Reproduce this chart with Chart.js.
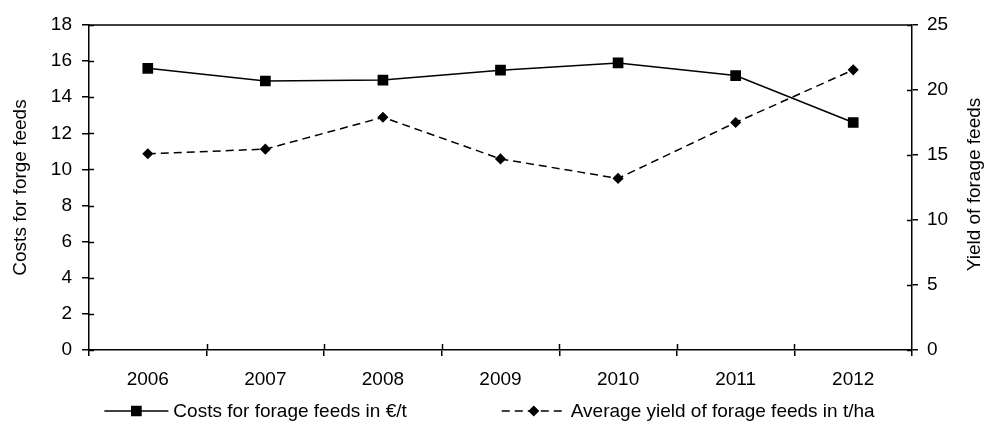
<!DOCTYPE html>
<html>
<head>
<meta charset="utf-8">
<script src="https://cdn.jsdelivr.net/npm/chart.js@4.4.1/dist/chart.umd.min.js"></script>
<style>
  html, body { margin: 0; padding: 0; background: #fff; }
  #wrap { width: 987px; height: 421px; }
</style>
</head>
<body>
<div id="wrap"><canvas id="forageChart" width="987" height="421"></canvas></div>
<script>
// values
const years = ['2006', '2007', '2008', '2009', '2010', '2011', '2012'];
const costs = [15.6, 14.9, 14.95, 15.5, 15.9, 15.2, 12.6];      // €/t, left axis
const yields = [15.1, 15.45, 17.9, 14.7, 13.2, 17.5, 21.55];    // t/ha, right axis

const costLabel = 'Costs for forage feeds in €/t';
const yieldLabel = 'Average yield of forage feeds in t/ha';
const leftTitle = 'Costs for forge feeds';
const rightTitle = 'Yield of forage feeds';

const FONT = '"Liberation Sans", Arial, sans-serif';
const FSIZE = 19;
Chart.defaults.font.family = FONT;
Chart.defaults.font.size = FSIZE;
Chart.defaults.color = '#000';

// frame top line, inner half of the crossing ticks, right title, legend
const extras = {
    id: 'extras',
    afterDraw(chart) {
        const ctx = chart.ctx;
        const area = chart.chartArea;
        const xs = chart.scales.x, yl = chart.scales.y, yr = chart.scales.y1;
        ctx.save();
        ctx.strokeStyle = '#000';
        ctx.lineWidth = 1.5;
        ctx.beginPath();
        ctx.moveTo(area.left, area.top);
        ctx.lineTo(area.right, area.top);
        // inner tick parts
        const half = (xs.getPixelForValue(1) - xs.getPixelForValue(0)) / 2;
        for (let i = 0; i < years.length - 1; i++) {
            const bx = Math.round(xs.getPixelForValue(i) + half) + 0.5;
            ctx.moveTo(bx, area.bottom);
            ctx.lineTo(bx, area.bottom - 6);
        }
        yl.ticks.forEach(t => {
            const py = Math.round(yl.getPixelForValue(t.value)) + 0.5;
            ctx.moveTo(area.left, py);
            ctx.lineTo(area.left + 5, py);
        });
        yr.ticks.forEach(t => {
            const py = Math.round(yr.getPixelForValue(t.value)) + 0.5;
            ctx.moveTo(area.right - 5, py);
            ctx.lineTo(area.right, py);
        });
        ctx.stroke();

        // right axis title, reading bottom to top like the left one
        ctx.font = FSIZE + 'px ' + FONT;
        ctx.fillStyle = '#000';
        ctx.save();
        ctx.translate(chart.width - 12, (area.top + area.bottom) / 2 - 3);
        ctx.rotate(-Math.PI / 2);
        ctx.textAlign = 'center';
        ctx.textBaseline = 'middle';
        ctx.fillText(rightTitle, 0, 0);
        ctx.restore();

        // legend: line sample with marker, then label
        const sample = 64, gapText = 5, gapItem = 95;
        const items = chart.data.datasets.map(ds => ({ ds, w: ctx.measureText(ds.label).width }));
        const total = items.reduce((s, it) => s + sample + gapText + it.w, 0) + gapItem;
        let x = (chart.width - total) / 2 - 4;
        const y = chart.height - 10;
        items.forEach(it => {
            const ds = it.ds;
            ctx.strokeStyle = ds.borderColor;
            ctx.fillStyle = ds.pointBackgroundColor;
            ctx.lineWidth = ds.borderWidth;
            ctx.setLineDash(ds.borderDash || []);
            ctx.beginPath();
            ctx.moveTo(x, y);
            ctx.lineTo(x + sample, y);
            ctx.stroke();
            ctx.setLineDash([]);
            Chart.helpers.drawPoint(ctx, {
                pointStyle: ds.pointStyle, radius: ds.pointRadius, borderWidth: 1, rotation: 0
            }, x + sample / 2, y);
            ctx.fillStyle = '#000';
            ctx.textAlign = 'left';
            ctx.textBaseline = 'middle';
            ctx.fillText(ds.label, x + sample + gapText, y + 1);
            x += sample + gapText + it.w + gapItem;
        });
        ctx.restore();
    }
};

const ctx = document.getElementById('forageChart').getContext('2d');
new Chart(ctx, {
    type: 'line',
    data: {
        labels: years,
        datasets: [
            {
                label: costLabel,
                data: costs,
                yAxisID: 'y',
                borderColor: '#000',
                borderWidth: 1.5,
                pointStyle: 'rect',
                pointRadius: 6.5,
                pointBackgroundColor: '#000',
                pointBorderColor: '#000',
                tension: 0
            },
            {
                label: yieldLabel,
                data: yields,
                yAxisID: 'y1',
                borderColor: '#000',
                borderWidth: 1.5,
                borderDash: [8, 5],
                pointStyle: 'rectRot',
                pointRadius: 4.5,
                pointBackgroundColor: '#000',
                pointBorderColor: '#000',
                tension: 0
            }
        ]
    },
    options: {
        responsive: false,
        animation: false,
        layout: { padding: { top: 25, right: 0, bottom: 27, left: 0 } },
        plugins: {
            legend: { display: false },
            tooltip: { enabled: false }
        },
        scales: {
            x: {
                offset: true,
                grid: { offset: true, drawOnChartArea: false, color: '#000', lineWidth: 1.5, tickLength: 6 },
                border: { color: '#000', width: 1.5 },
                ticks: { padding: 12, maxRotation: 0 },
                afterFit(scale) { scale.height = 44; }
            },
            y: {
                position: 'left',
                min: 0, max: 18,
                ticks: { stepSize: 2, padding: 10 },
                grid: { drawOnChartArea: false, color: '#000', lineWidth: 1.5, tickLength: 7 },
                border: { color: '#000', width: 1.5 },
                title: { display: true, text: leftTitle, padding: { top: 9, bottom: 0 } },
                afterFit(scale) { scale.width = 89; }
            },
            y1: {
                position: 'right',
                min: 0, max: 25,
                ticks: { stepSize: 5, padding: 9 },
                grid: { drawOnChartArea: false, color: '#000', lineWidth: 1.5, tickLength: 6 },
                border: { color: '#000', width: 1.5 },
                afterFit(scale) { scale.width = 75; }
            }
        }
    },
    plugins: [extras]
});
</script>
</body>
</html>
